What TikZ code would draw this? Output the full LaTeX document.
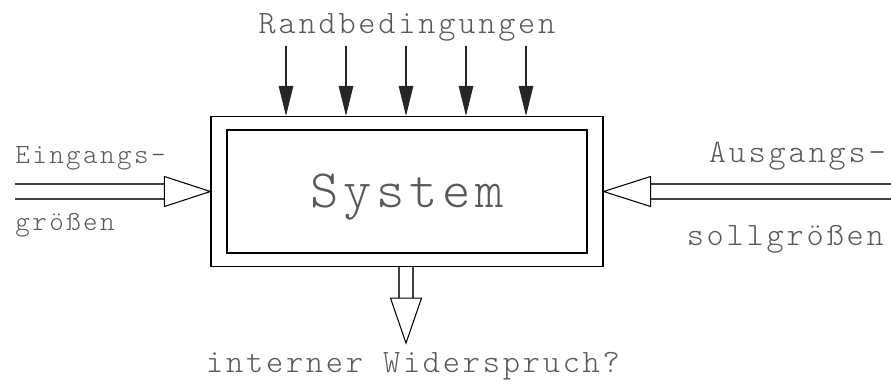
\documentclass[tikz,border=0pt]{standalone}
\usepackage{fontspec}
\usetikzlibrary{arrows.meta,calc}
\newfontfamily\plotfont[LetterSpace=8.6]{lmmonolt10-regular.otf}
\tikzset{
  box/.style={draw, line width=0.7pt, minimum width=7.84cm, minimum height=3cm, inner sep=0pt},
  core/.style={draw, line width=0.7pt, minimum width=7.2cm, minimum height=2.46cm, inner sep=0pt},
  pin/.style={draw=black!85, line width=0.6pt, -{Triangle[length=0.6cm,width=0.29cm]}},
  rail/.style={draw=black!75, line width=0.6pt},
  tip/.style={draw, line width=0.6pt, fill=white, line join=miter},
  txt/.style={text=black!65, inner sep=0pt}
}
\begin{document}
\begin{tikzpicture}[x=0.02cm, y=0.02cm]
\useasboundingbox (0,0) rectangle (891,383);
\node[box] (system) at (407,191.5) {};
\node[core, txt, font=\plotfont\fontsize{30.7}{32}\selectfont, text height=18.7pt, text depth=0pt] (core) at (system) {System};
% Randbedingungen
\node[txt, anchor=base, font=\plotfont\fontsize{18.6}{20}\selectfont] (rand) at (407,350) {Randbedingungen};
\foreach \dx in {-121,-61,-1,59,119}
  \draw[pin] ($(system.north)+(\dx,70)$) -- ($(system.north)+(\dx,0)$);
% Eingang
\coordinate (in) at (15,191.5);
\node[txt, anchor=base west, font=\plotfont\fontsize{15.8}{17}\selectfont] (ein) at (15,220) {Eingangs–};
\node[txt, anchor=base west, font=\plotfont\fontsize{15.8}{17}\selectfont] (eing) at (15,153) {größen};
\draw[rail] ($(in)+(0,7.5)$) -- ($(system.west)+(-46,7.5)$);
\draw[rail] ($(in)+(0,-7.5)$) -- ($(system.west)+(-46,-7.5)$);
\draw[tip] ($(system.west)+(-46,15)$) -- (system.west) -- ($(system.west)+(-46,-15)$) -- cycle;
% Ausgang
\coordinate (out) at (891,191.5);
\node[txt, anchor=base east, font=\plotfont\fontsize{18.6}{20}\selectfont] (aus) at (886,221) {Ausgangs–};
\node[txt, anchor=base east, font=\plotfont\fontsize{18.6}{20}\selectfont] (soll) at (884,138) {sollgrößen};
\draw[rail] ($(out)+(0,7.5)$) -- ($(system.east)+(47,7.5)$);
\draw[rail] ($(out)+(0,-7.5)$) -- ($(system.east)+(47,-7.5)$);
\draw[tip] ($(system.east)+(47,15)$) -- (system.east) -- ($(system.east)+(47,-15)$) -- cycle;
% Widerspruch
\node[txt, anchor=base, font=\plotfont\fontsize{18.6}{20}\selectfont] (wid) at (413,11) {interner Widerspruch?};
\draw[rail] ($(system.south)+(-8,0)$) -- ($(system.south)+(-8,-31)$);
\draw[rail] ($(system.south)+(6,0)$) -- ($(system.south)+(6,-31)$);
\draw[tip] ($(system.south)+(-16.5,-31)$) -- ($(system.south)+(-1,-76)$) -- ($(system.south)+(14.5,-31)$) -- cycle;
\end{tikzpicture}
\end{document}
